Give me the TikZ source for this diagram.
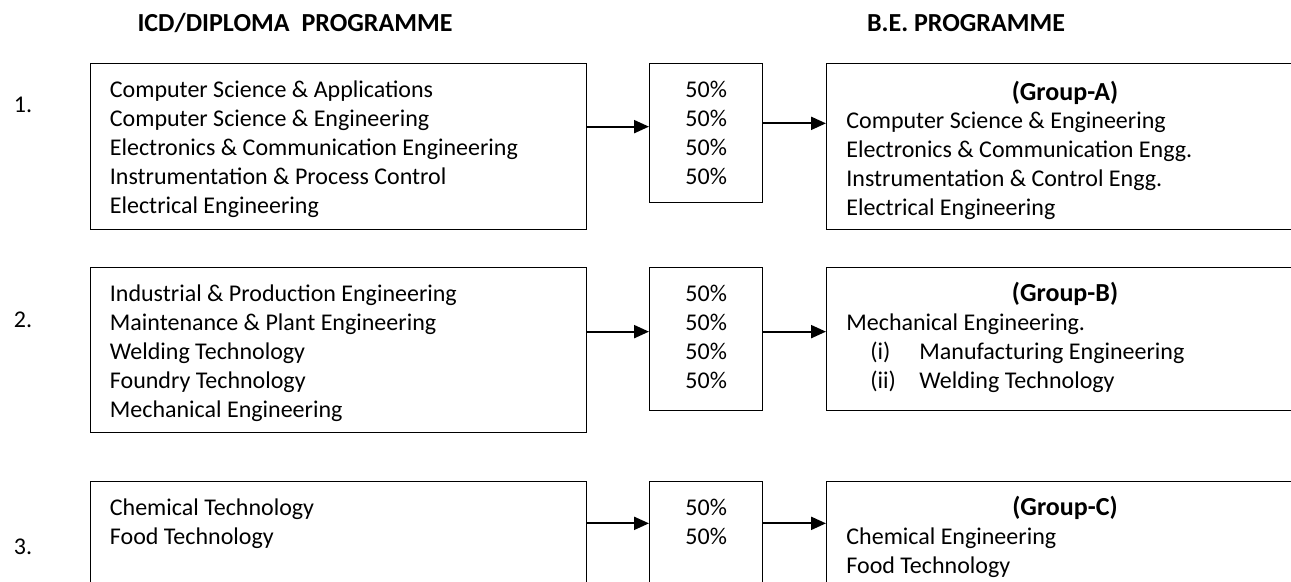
\documentclass[tikz,border=0pt]{standalone}
\usepackage{fontspec}
\setmainfont{Carlito}
\usetikzlibrary{arrows.meta}
\tikzstyle{every node}=[inner sep=0pt, font=\fontsize{12}{14}\selectfont]
\tikzstyle{box}=[draw, line width=0.65pt, anchor=north west]
\tikzstyle{item}=[anchor=base west]
\tikzstyle{share}=[anchor=base]
\tikzstyle{head}=[font=\fontsize{13}{15}\selectfont\bfseries]
\tikzstyle{link}=[line width=1.1pt, -{Triangle[length=7.5pt, width=6.5pt]}]

\begin{document}
\begin{tikzpicture}[x=0.5pt, y=-0.5pt]
    \useasboundingbox (0,0) rectangle (1291,582);
    \clip (0,0) rectangle (1291,582);
% Headings
    \node[head] (hdip) at (295,23) {ICD/DIPLOMA\hspace{6pt}PROGRAMME};
    \node[head] (hbe) at (966,23) {B.E. PROGRAMME};
% Serial numbers
    \node (sn1) at (23,105) {1.};
    \node (sn2) at (23,320) {2.};
    \node (sn3) at (23,547) {3.};
% Boxes
    \node[box, minimum width=248pt, minimum height=83pt] (dip1) at (90,63) {};
    \node[box, minimum width=56.5pt, minimum height=69.5pt] (pct1) at (649,63) {};
    \node[box, minimum width=240pt, minimum height=83pt] (be1) at (826,63) {};
    \node[box, minimum width=248pt, minimum height=82.5pt] (dip2) at (90,267) {};
    \node[box, minimum width=56.5pt, minimum height=71.5pt] (pct2) at (649,267) {};
    \node[box, minimum width=240pt, minimum height=71.5pt] (be2) at (826,267) {};
    \node[box, minimum width=248pt, minimum height=60pt] (dip3) at (90,481) {};
    \node[box, minimum width=56.5pt, minimum height=60pt] (pct3) at (649,481) {};
    \node[box, minimum width=240pt, minimum height=60pt] (be3) at (826,481) {};
% Diploma branches
    \foreach \c [count=\i] in {Computer Science \& Applications, Computer Science \& Engineering,
        Electronics \& Communication Engineering, Instrumentation \& Process Control, Electrical Engineering}
        \node[item] (dip1-\i) at ([shift={(19.5,{6+29*\i})}]dip1.north west) {\c};
    \foreach \c [count=\i] in {Industrial \& Production Engineering, Maintenance \& Plant Engineering,
        Welding Technology, Foundry Technology, Mechanical Engineering}
        \node[item] (dip2-\i) at ([shift={(19.5,{6+29*\i})}]dip2.north west) {\c};
    \foreach \c [count=\i] in {Chemical Technology, Food Technology}
        \node[item] (dip3-\i) at ([shift={(19.5,{6+29*\i})}]dip3.north west) {\c};
% Seats
    \foreach \i in {1,...,4}
        \node[share] (pct1-\i) at ([shift={(0,{6+29*\i})}]pct1.north) {50\%};
    \foreach \i in {1,...,4}
        \node[share] (pct2-\i) at ([shift={(0,{6+29*\i})}]pct2.north) {50\%};
    \foreach \i in {1,2}
        \node[share] (pct3-\i) at ([shift={(0,{6+29*\i})}]pct3.north) {50\%};
% B.E. branches
    \node[head, anchor=base] (be1-0) at ([shift={(239,38)}]be1.north west) {(Group-A)};
    \foreach \c [count=\i] in {Computer Science \& Engineering, Electronics \& Communication Engg.,
        Instrumentation \& Control Engg., Electrical Engineering}
        \node[item] (be1-\i) at ([shift={(20,{37+29*\i})}]be1.north west) {\c};
    \node[head, anchor=base] (be2-0) at ([shift={(239,35)}]be2.north west) {(Group-B)};
    \node[item] (be2-1) at ([shift={(20,64)}]be2.north west) {Mechanical Engineering.};
    \node[item] (be2-2) at ([shift={(44,93)}]be2.north west) {(i)};
    \node[item] (be2-3) at ([shift={(93,93)}]be2.north west) {Manufacturing Engineering};
    \node[item] (be2-4) at ([shift={(44,122)}]be2.north west) {(ii)};
    \node[item] (be2-5) at ([shift={(93,122)}]be2.north west) {Welding Technology};
    \node[head, anchor=base] (be3-0) at ([shift={(239,35)}]be3.north west) {(Group-C)};
    \foreach \c [count=\i] in {Chemical Engineering, Food Technology}
        \node[item] (be3-\i) at ([shift={(20,{35+29*\i})}]be3.north west) {\c};
% Arrows
    \coordinate (in1) at ([yshift=3.25pt]pct1.west);
    \coordinate (out1) at ([yshift=4.9pt]pct1.east);
    \coordinate (in2) at ([yshift=3.75pt]pct2.west);
    \coordinate (out2) at ([yshift=3.75pt]pct2.east);
    \coordinate (in3) at ([yshift=9.15pt]pct3.west);
    \coordinate (out3) at ([yshift=9.15pt]pct3.east);
    \draw[link] (dip1.east |- in1) -- (in1);
    \draw[link] (out1) -- (out1 -| be1.west);
    \draw[link] (dip2.east |- in2) -- (in2);
    \draw[link] (out2) -- (out2 -| be2.west);
    \draw[link] (dip3.east |- in3) -- (in3);
    \draw[link] (out3) -- (out3 -| be3.west);
\end{tikzpicture}
\end{document}
